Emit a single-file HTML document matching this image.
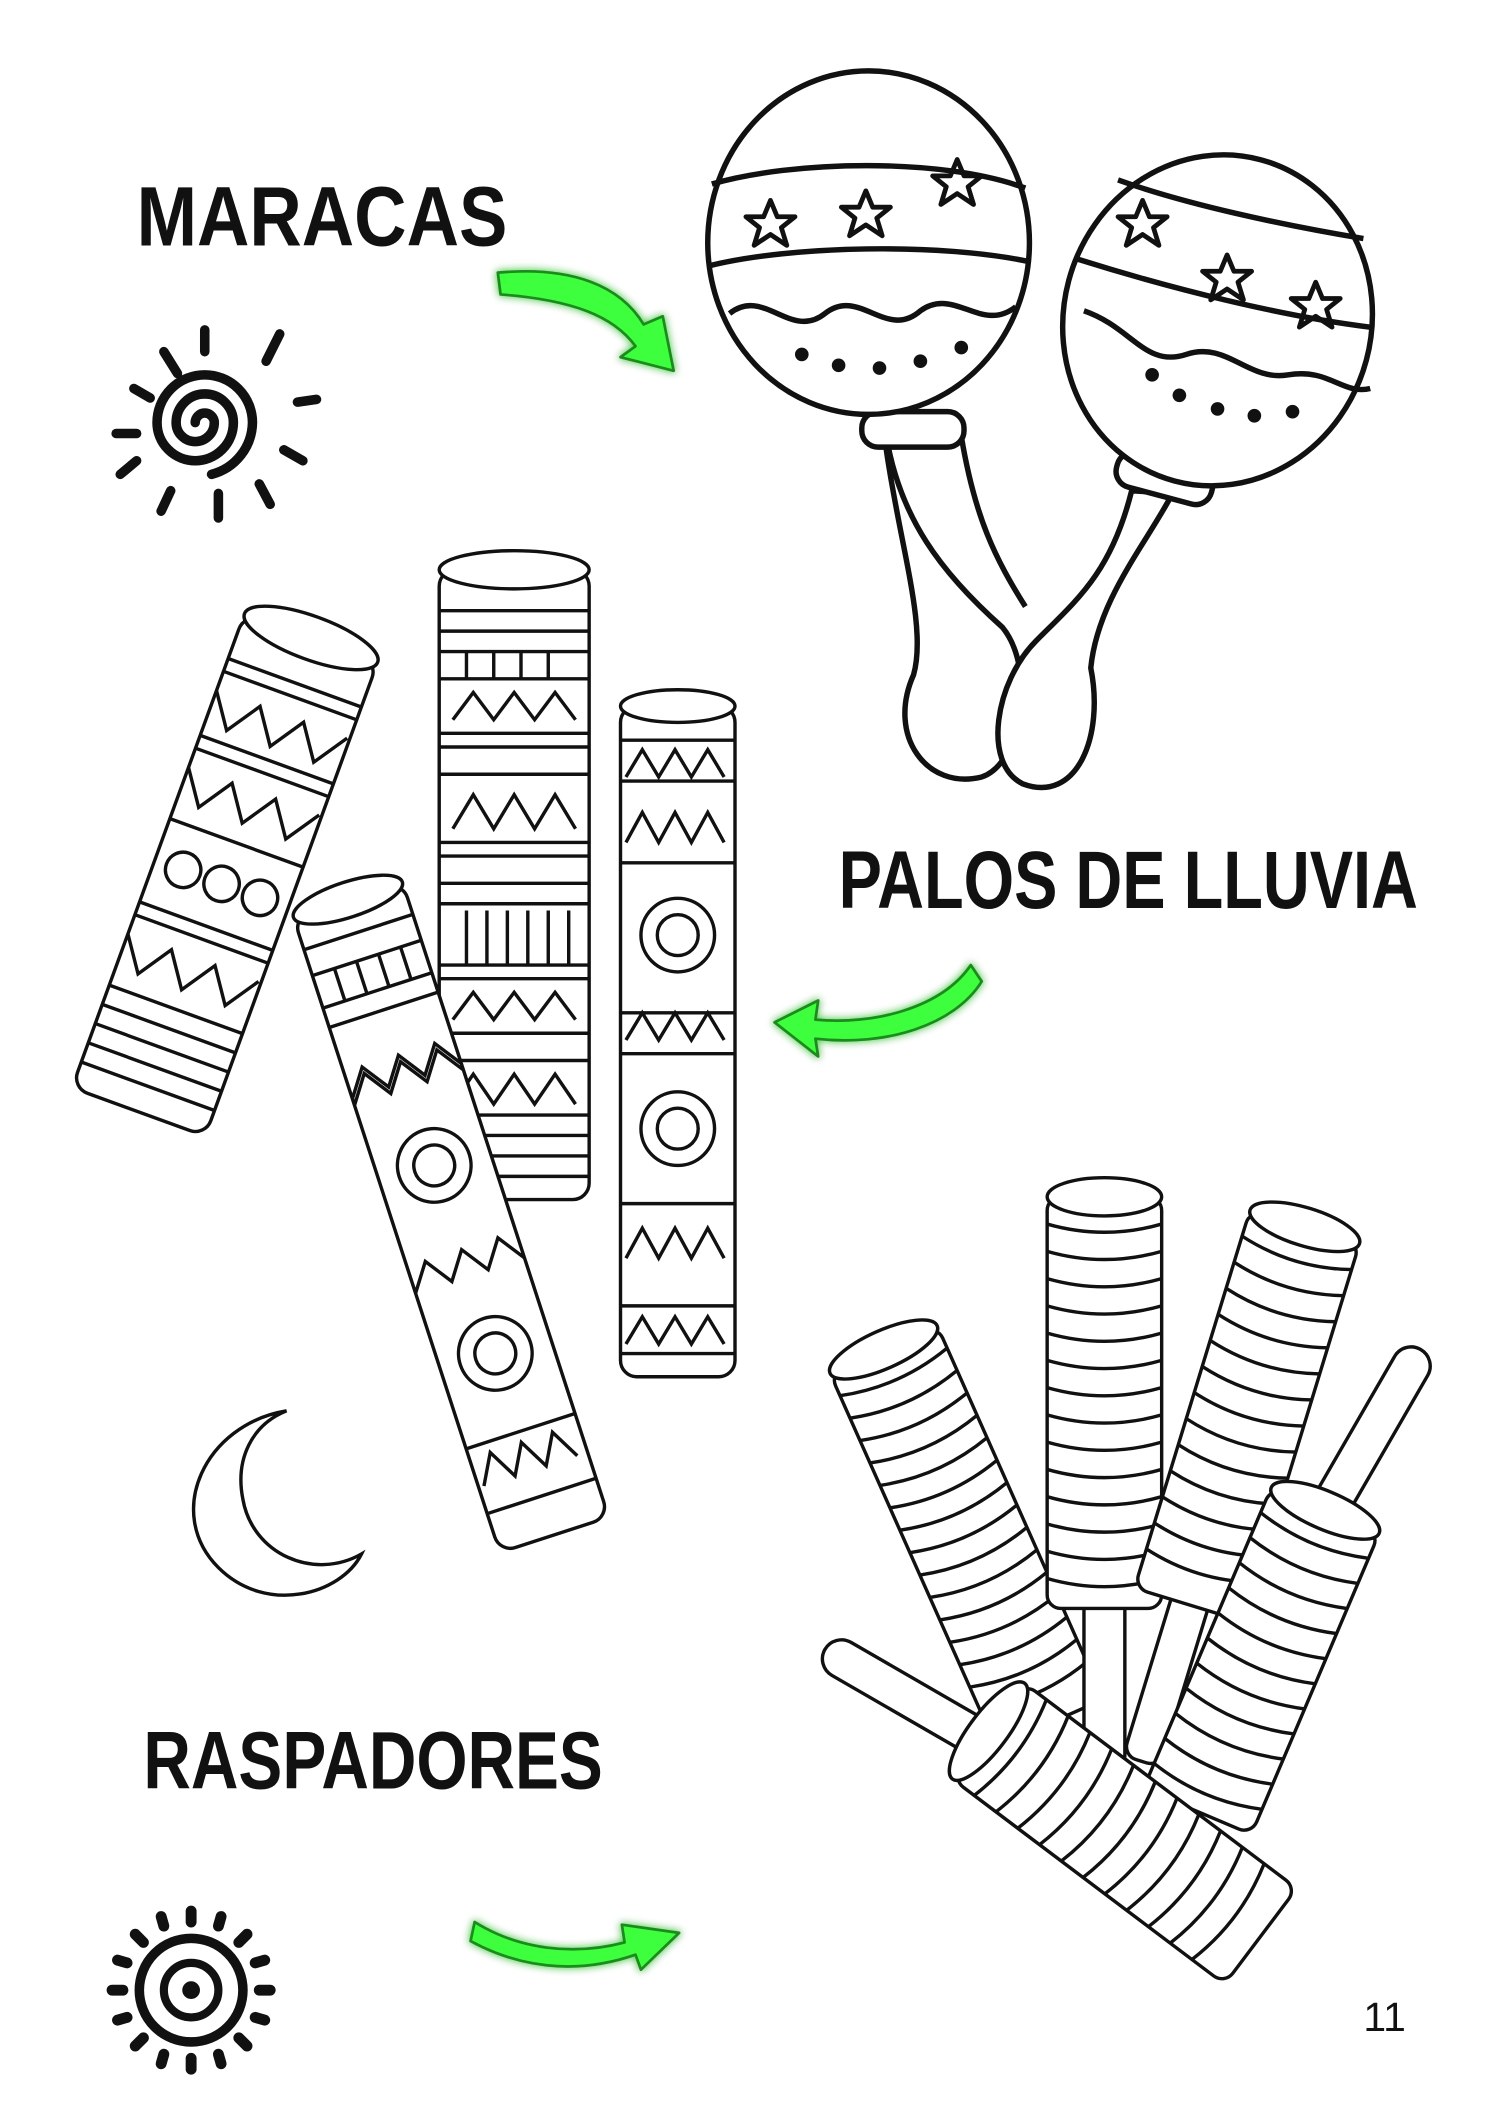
<!DOCTYPE html>
<html><head><meta charset="utf-8"><style>
html,body{margin:0;padding:0;background:#fff}
svg{display:block}
text{font-family:"Liberation Sans",sans-serif;font-weight:bold}
</style></head><body>
<svg width="1500" height="2121" viewBox="0 0 1100 1556" xmlns="http://www.w3.org/2000/svg">
<defs>
<filter id="glow" x="-30%" y="-30%" width="160%" height="160%"><feGaussianBlur stdDeviation="3" result="b"/><feMerge><feMergeNode in="b"/><feMergeNode in="SourceGraphic"/></feMerge></filter>
</defs>
<rect width="1100" height="1556" fill="#fff"/>

<text x="100" y="180" font-size="62" textLength="272" lengthAdjust="spacingAndGlyphs" fill="#111">MARACAS</text>
<text x="615" y="666" font-size="60" textLength="425" lengthAdjust="spacingAndGlyphs" fill="#111">PALOS DE LLUVIA</text>
<text x="105" y="1312" font-size="60" textLength="337" lengthAdjust="spacingAndGlyphs" fill="#111">RASPADORES</text>
<text x="1000" y="1490" font-size="30" style="font-weight:normal" fill="#111">11</text>

<g filter="url(#glow)" stroke="#1a8a1a" stroke-width="2" fill="#3dff3d" stroke-linejoin="round">
<path d="M365,200 C420,195 455,210 472,238 L486,232 L494,272 L455,262 L466,254 C450,232 420,220 367,216 Z"/>
<path d="M712,708 C690,740 640,752 598,748 L600,734 L568,750 L600,775 L598,762 C650,768 700,752 720,720 Z"/>
<path d="M348,1410 C380,1430 420,1435 458,1425 L456,1412 L498,1418 L470,1445 L466,1434 C420,1450 378,1442 345,1424 Z"/>
</g>

<g stroke="#111" stroke-width="7" stroke-linecap="round" fill="none">
<path d="M143,310 a7,7 0 0 1 14,0 a14,14 0 0 1 -28,0 a21,21 0 0 1 42,0 a28,28 0 0 1 -56,0 a35,35 0 0 1 70,0 a40,40 0 0 1 -30,38"/>
<line x1="120" y1="258" x2="130" y2="274"/><line x1="150" y1="242" x2="150" y2="258"/>
<line x1="205" y1="245" x2="195" y2="265"/><line x1="218" y1="295" x2="232" y2="293"/>
<line x1="208" y1="330" x2="222" y2="338"/><line x1="190" y1="355" x2="198" y2="370"/>
<line x1="160" y1="362" x2="160" y2="380"/><line x1="125" y1="360" x2="118" y2="375"/>
<line x1="100" y1="338" x2="88" y2="348"/><line x1="85" y1="318" x2="100" y2="318"/>
<line x1="98" y1="285" x2="110" y2="292"/>
</g>

<g stroke="#111" stroke-width="4" fill="#fff">
<path d="M650,320 C660,380 690,420 735,460 C760,490 750,560 720,570 C680,580 650,540 670,495 C680,460 660,400 650,330 Z"/>
<path d="M705,320 C715,380 730,410 752,445"/>
<rect x="632" y="302" width="75" height="26" rx="12"/>
<ellipse cx="637" cy="178" rx="118" ry="126"/>
<path d="M522,135 C580,118 690,115 752,138" fill="none"/>
<path d="M520,195 C580,180 690,178 755,192" fill="none"/>
<path d="M535,230 C560,210 580,250 605,230 C630,210 650,250 675,228 C700,210 720,245 745,225" fill="none"/>
<path d="M830,360 C815,420 790,440 760,470 C730,500 720,560 750,575 C790,590 810,540 800,490 C805,440 840,400 860,362 Z" />
<rect x="818" y="338" width="72" height="26" rx="12" transform="rotate(15 854 351)"/>
<ellipse cx="893" cy="235" rx="113" ry="122" transform="rotate(15 893 235)"/>
<path d="M820,132 C870,150 940,165 1000,175" fill="none"/>
<path d="M790,190 C860,212 940,232 1005,240" fill="none"/>
<path d="M795,228 C830,240 840,270 870,260 C900,250 915,280 945,275 C975,270 985,290 1005,285" fill="none"/>
</g>
<g fill="none" stroke="#111" stroke-width="3.5" stroke-linejoin="round">
<path id="st" d="M0,-18 L5,-6 L18,-6 L8,2 L12,15 L0,7 L-12,15 L-8,2 L-18,-6 L-5,-6 Z" transform="translate(565,165)"/>
<use href="#st" x="70" y="-7"/><use href="#st" x="137" y="-30"/>
<use href="#st" x="273" y="0"/><use href="#st" x="335" y="40"/><use href="#st" x="400" y="60"/>
</g>
<g fill="#111">
<circle cx="588" cy="260" r="5"/><circle cx="615" cy="268" r="5"/><circle cx="645" cy="270" r="5"/><circle cx="675" cy="265" r="5"/><circle cx="705" cy="255" r="5"/>
<circle cx="845" cy="275" r="5"/><circle cx="865" cy="290" r="5"/><circle cx="893" cy="300" r="5"/><circle cx="920" cy="305" r="5"/><circle cx="948" cy="302" r="5"/>
</g>

<g stroke="#111" stroke-width="2.5" fill="#fff">
 <g transform="translate(228,468) rotate(20)">
  <rect x="-52" y="0" width="104" height="370" rx="12"/>
  <ellipse cx="0" cy="0" rx="52" ry="16"/>
  <path d="M-52,35 h104 M-52,45 h104 M-52,95 h104 M-52,105 h104 M-52,160 h104 M-52,225 h104 M-52,235 h104 M-52,290 h104 M-52,305 h104 M-52,320 h104 M-52,335 h104 M-52,350 h104" fill="none"/>
  <path d="M-52,60 l17,25 l17,-25 l17,25 l17,-25 l17,25 l17,-25 M-52,120 l17,25 l17,-25 l17,25 l17,-25 l17,25 l17,-25 M-52,250 l17,25 l17,-25 l17,25 l17,-25 l17,25 l17,-25" fill="none"/>
  <circle cx="-30" cy="192" r="13"/><circle cx="0" cy="192" r="13"/><circle cx="30" cy="192" r="13"/>
 </g>
 <g transform="translate(377,418)">
  <rect x="-55" y="0" width="110" height="462" rx="12"/>
  <ellipse cx="0" cy="0" rx="55" ry="14"/>
  <path d="M-55,30 h110 M-55,45 h110 M-55,60 h110 M-55,80 h110 M-55,120 h110 M-55,130 h110 M-55,150 h110 M-55,200 h110 M-55,210 h110 M-55,230 h110 M-55,245 h110 M-55,290 h110 M-55,300 h110 M-55,340 h110 M-55,360 h110 M-55,400 h110 M-55,415 h110 M-55,430 h110 M-55,445 h110" fill="none"/>
  <path d="M-35,60 v20 M-15,60 v20 M5,60 v20 M25,60 v20 M-35,250 v40 M-20,250 v40 M-5,250 v40 M10,250 v40 M25,250 v40 M40,250 v40" fill="none"/>
  <path d="M-45,110 l15,-20 l15,20 l15,-20 l15,20 l15,-20 l15,20 M-45,190 l15,-25 l15,25 l15,-25 l15,25 l15,-25 l15,25 M-45,330 l15,-20 l15,20 l15,-20 l15,20 l15,-20 l15,20 M-45,392 l15,-22 l15,22 l15,-22 l15,22 l15,-22 l15,22" fill="none"/>
 </g>
 <g transform="translate(497,518)">
  <rect x="-42" y="0" width="84" height="492" rx="12"/>
  <ellipse cx="0" cy="0" rx="42" ry="12"/>
  <path d="M-42,25 h84 M-42,55 h84 M-42,115 h84 M-42,225 h84 M-42,255 h84 M-42,365 h84 M-42,440 h84 M-42,475 h84" fill="none"/>
  <path d="M-38,52 l12,-20 l12,20 l12,-20 l12,20 l12,-20 l12,20 M-38,100 l12,-22 l12,22 l12,-22 l12,22 l12,-22 l12,22 M-38,245 l12,-20 l12,20 l12,-20 l12,20 l12,-20 l12,20 M-38,405 l12,-22 l12,22 l12,-22 l12,22 l12,-22 l12,22 M-38,468 l12,-20 l12,20 l12,-20 l12,20 l12,-20 l12,20" fill="none"/>
  <circle cx="0" cy="168" r="27"/><circle cx="0" cy="168" r="15"/>
  <circle cx="0" cy="310" r="27"/><circle cx="0" cy="310" r="15"/>
 </g>
 <g transform="translate(255,660) rotate(-18)">
  <rect x="-42" y="0" width="84" height="490" rx="12"/>
  <ellipse cx="0" cy="0" rx="42" ry="13"/>
  <path d="M-42,25 h84 M-42,45 h84 M-42,70 h84 M-42,85 h84 M-42,410 h84 M-42,460 h84" fill="none"/>
  <path d="M-25,45 v25 M-8,45 v25 M9,45 v25 M26,45 v25" fill="none"/>
  <path d="M-42,140 l14,-20 l14,20 l14,-20 l14,20 l14,-20 l14,20 M-42,145 l14,-20 l14,20 l14,-20 l14,20 l14,-20 l14,20 M-42,290 l14,-20 l14,20 l14,-20 l14,20 l14,-20 l14,20 M-38,440 l12,-22 l12,22 l12,-22 l12,22 l12,-22 l12,22" fill="none"/>
  <circle cx="0" cy="205" r="27"/><circle cx="0" cy="205" r="15"/>
  <circle cx="0" cy="350" r="27"/><circle cx="0" cy="350" r="15"/>
 </g>
</g>

<path d="M210,1035 C150,1045 120,1110 160,1150 C195,1185 250,1170 265,1140 C230,1160 185,1140 178,1100 C172,1070 185,1045 210,1035 Z" fill="#fff" stroke="#111" stroke-width="2.5"/>

<g stroke="#111" stroke-width="2.5" fill="#fff">
 <g transform="translate(648,990) rotate(-24)">
  <rect x="-43" y="0" width="86" height="300" rx="10"/>
  <ellipse cx="0" cy="0" rx="43" ry="14"/>
  <path fill="none" d="M-43,18 q43,12 86,0 M-43,36 q43,12 86,0 M-43,54 q43,12 86,0 M-43,72 q43,12 86,0 M-43,90 q43,12 86,0 M-43,108 q43,12 86,0 M-43,126 q43,12 86,0 M-43,144 q43,12 86,0 M-43,162 q43,12 86,0 M-43,180 q43,12 86,0 M-43,198 q43,12 86,0 M-43,216 q43,12 86,0 M-43,234 q43,12 86,0 M-43,252 q43,12 86,0 M-43,270 q43,12 86,0"/>
 </g>
 <rect x="795" y="1170" width="30" height="128" rx="10"/>
 <g transform="translate(810,878)">
  <rect x="-42" y="0" width="84" height="302" rx="10"/>
  <ellipse cx="0" cy="0" rx="42" ry="14"/>
  <path fill="none" d="M-42,20 q42,12 84,0 M-42,40 q42,12 84,0 M-42,60 q42,12 84,0 M-42,80 q42,12 84,0 M-42,100 q42,12 84,0 M-42,120 q42,12 84,0 M-42,140 q42,12 84,0 M-42,160 q42,12 84,0 M-42,180 q42,12 84,0 M-42,200 q42,12 84,0 M-42,220 q42,12 84,0 M-42,240 q42,12 84,0 M-42,260 q42,12 84,0 M-42,280 q42,12 84,0"/>
 </g>
 <g transform="translate(957,900) rotate(17)">
  <rect x="-14" y="280" width="28" height="130" rx="10"/>
  <rect x="-42" y="0" width="84" height="290" rx="10"/>
  <ellipse cx="0" cy="0" rx="42" ry="14"/>
  <path fill="none" d="M-42,20 q42,12 84,0 M-42,40 q42,12 84,0 M-42,60 q42,12 84,0 M-42,80 q42,12 84,0 M-42,100 q42,12 84,0 M-42,120 q42,12 84,0 M-42,140 q42,12 84,0 M-42,160 q42,12 84,0 M-42,180 q42,12 84,0 M-42,200 q42,12 84,0 M-42,220 q42,12 84,0 M-42,240 q42,12 84,0 M-42,260 q42,12 84,0"/>
 </g>
 <g transform="translate(1042,990) rotate(30)">
  <rect x="-14" y="0" width="28" height="140" rx="14"/>
 </g>
 <g transform="translate(972,1108) rotate(23)">
  <rect x="-43" y="0" width="86" height="240" rx="10"/>
  <ellipse cx="0" cy="0" rx="43" ry="14"/>
  <path fill="none" d="M-43,20 q43,12 86,0 M-43,40 q43,12 86,0 M-43,60 q43,12 86,0 M-43,80 q43,12 86,0 M-43,100 q43,12 86,0 M-43,120 q43,12 86,0 M-43,140 q43,12 86,0 M-43,160 q43,12 86,0 M-43,180 q43,12 86,0 M-43,200 q43,12 86,0 M-43,220 q43,12 86,0"/>
 </g>
 <g transform="translate(605,1210) rotate(-60)">
  <rect x="-14" y="0" width="28" height="140" rx="14"/>
 </g>
 <g transform="translate(725,1270) rotate(-53)">
  <rect x="-44" y="0" width="88" height="250" rx="10"/>
  <ellipse cx="0" cy="0" rx="44" ry="14"/>
  <path fill="none" d="M-44,20 q44,12 88,0 M-44,40 q44,12 88,0 M-44,60 q44,12 88,0 M-44,80 q44,12 88,0 M-44,100 q44,12 88,0 M-44,120 q44,12 88,0 M-44,140 q44,12 88,0 M-44,160 q44,12 88,0 M-44,180 q44,12 88,0 M-44,200 q44,12 88,0 M-44,220 q44,12 88,0"/>
 </g>
</g>

<g stroke="#111" fill="none">
 <circle cx="140" cy="1460" r="38" stroke-width="7"/>
 <circle cx="140" cy="1460" r="20" stroke-width="6"/>
 <circle cx="140" cy="1460" r="6" fill="#111" stroke-width="1"/>
 <g stroke-width="8" stroke-linecap="round">
  <line x1="140" y1="1402" x2="140" y2="1410"/><line x1="140" y1="1510" x2="140" y2="1518"/>
  <line x1="82" y1="1460" x2="90" y2="1460"/><line x1="190" y1="1460" x2="198" y2="1460"/>
  <line x1="99" y1="1419" x2="105" y2="1425"/><line x1="175" y1="1495" x2="181" y2="1501"/>
  <line x1="181" y1="1419" x2="175" y2="1425"/><line x1="105" y1="1495" x2="99" y2="1501"/>
  <line x1="118" y1="1406" x2="120" y2="1413"/><line x1="162" y1="1406" x2="160" y2="1413"/>
  <line x1="118" y1="1514" x2="120" y2="1507"/><line x1="162" y1="1514" x2="160" y2="1507"/>
  <line x1="86" y1="1438" x2="93" y2="1440"/><line x1="86" y1="1482" x2="93" y2="1480"/>
  <line x1="194" y1="1438" x2="187" y2="1440"/><line x1="194" y1="1482" x2="187" y2="1480"/>
 </g>
</g>
</svg>
</body></html>
